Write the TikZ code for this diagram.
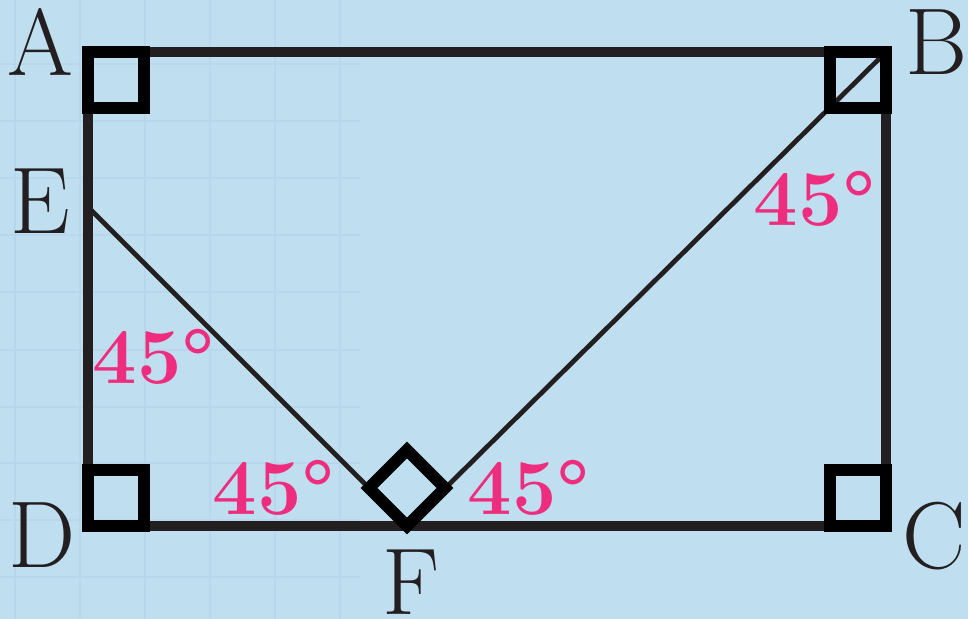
\documentclass[tikz,border=0pt]{standalone}
\usepackage{tikz}
\usetikzlibrary{arrows.meta, positioning}
\definecolor{paperblue}{RGB}{191,223,241}
\definecolor{gridblue}{RGB}{183,216,236}
\definecolor{inkblack}{RGB}{35,31,32}
\definecolor{anglepink}{RGB}{238,45,126}

\begin{document}
\begin{tikzpicture}[
    x=0.02cm, y=-0.02cm,
    edge/.style={line width=5.7pt, inkblack, line cap=rect},
    diag/.style={line width=2.7pt, inkblack},
    rightmark/.style={line width=6.8pt, black, line join=miter},
    gridline/.style={line width=1.1pt, gridblue},
    vertex/.style={inner sep=0pt, font=\fontsize{54}{54}\selectfont, text=inkblack},
    angletext/.style={inner sep=0pt, font=\fontsize{45}{45}\selectfont\bfseries, text=anglepink}
]
% background and faint grid
\fill[paperblue] (0,0) rectangle (968,619);
\useasboundingbox (0,0) rectangle (968,619);
\foreach \gx in {15,80,145,210,275,340}
    \draw[gridline] (\gx,0) -- (\gx,619);
\foreach \gy in {64,121,178,235,292,350,407,463,520,577}
    \draw[gridline] (0,\gy) -- (360,\gy);

% corners
\coordinate (A) at (88,52);
\coordinate (B) at (886,52);
\coordinate (C) at (886,526);
\coordinate (D) at (88,526);
\coordinate (E) at (88,207);
\coordinate (F) at (407,526);

% rectangle and the two slanted lines
\draw[edge] (A) -- (B) -- (C) -- (D) -- cycle;
\draw[diag] (E) -- (F);
\draw[diag] (B) -- (F);

% right angle marks
\draw[rightmark] (A) rectangle ++(56,56);
\draw[rightmark] (B) rectangle ++(-56,56);
\draw[rightmark] (C) rectangle ++(-56,-56);
\draw[rightmark] (D) rectangle ++(56,-56);
\draw[rightmark] (F) -- ++(-38,-38) -- ++(38,-38) -- ++(38,38) -- cycle;

% vertex letters
\node[vertex] (lA) at (40,42) {A};
\node[vertex] (lB) at (937,42) {B};
\node[vertex] (lC) at (934,536) {C};
\node[vertex] (lD) at (42,535) {D};
\node[vertex] (lE) at (40,201) {E};
\node[vertex] (lF) at (411,582) {F};

% angle values
\node[angletext] (aB) at (815,199) {45°};
\node[angletext] (aE) at (154,357) {45°};
\node[angletext] (aFl) at (274,488) {45°};
\node[angletext] (aFr) at (529,488) {45°};
\end{tikzpicture}
\end{document}
